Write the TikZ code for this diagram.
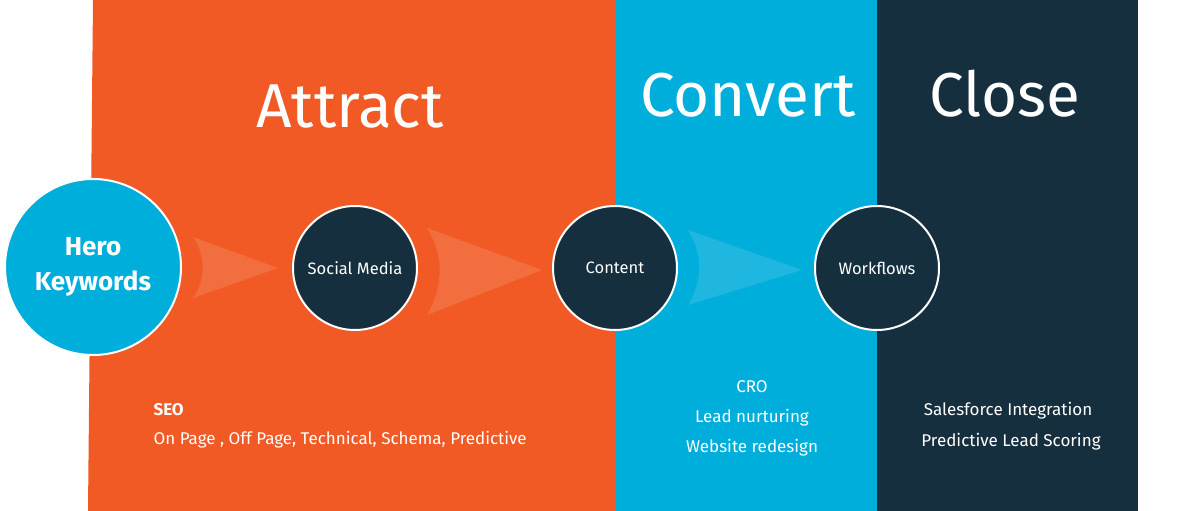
\documentclass[tikz,border=0pt]{standalone}
\usepackage{fontspec}
\setmainfont{Fira Sans}
\begin{document}
\begin{tikzpicture}[x=1pt,y=-1pt,
  hub/.style={circle,draw=white,line width=2pt,minimum size=124pt,inner sep=0pt,fill=darkc,text=white,font=\fontsize{16.5}{18}\selectfont},
  chev/.style={fill=white,fill opacity=0.12,draw=none},
  title/.style={text=white,font=\fontsize{62}{70}\selectfont,anchor=base},
  lbl/.style={text=white,font=\fontsize{17}{18}\selectfont,anchor=base}]
\definecolor{orangec}{HTML}{F15A24}
\definecolor{bluec}{HTML}{00AEDB}
\definecolor{darkc}{HTML}{152F3F}
\useasboundingbox (0,0) rectangle (1200,511);
\fill[white] (0,0) rectangle (1200,511);
\fill[orangec] (93,0) -- (615,0) -- (615,511) -- (88,511) -- cycle;
\fill[bluec] (615,0) rectangle (877,511);
\fill[darkc] (877,0) rectangle (1138,511);
% chevrons
\fill[chev] (193,237) .. controls (206,255) and (206,280) .. (193,298) -- (278,268) -- cycle;
\fill[chev] (427,228) .. controls (444,255) and (444,285) .. (427,315) -- (542,270) -- cycle;
\fill[chev] (688,230) .. controls (703,255) and (703,280) .. (688,305) -- (802,270) -- cycle;
% titles
\node[title] (t1) at (350,127) {Attract};
\node[title] (t2) at (748,117) {Convert};
\node[title] (t3) at (1005,117) {Close};
% circles
\node[circle,draw=white,line width=2pt,minimum size=176pt,fill=bluec,text=white,align=center,font=\bfseries\fontsize{26}{35}\selectfont] (hero) at (93,267) {Hero\\Keywords};
\node[hub] (sm) at (355,268) {Social Media};
\node[hub] (ct) at (615,268) {Content};
\node[hub] (wf) at (877,268) {Workflows};
% bottom texts
\node[lbl,anchor=base west,font=\bfseries\fontsize{17}{18}\selectfont] (seo) at (150,415) {SEO};
\node[lbl,anchor=base west] (seo2) at (150,444) {On Page , Off Page, Technical, Schema, Predictive};
\node[lbl] (cro) at (752,392) {CRO};
\node[lbl] (ln) at (752,422) {Lead nurturing};
\node[lbl] (wr) at (752,452) {Website redesign};
\node[lbl] (sf) at (1008,415) {Salesforce Integration};
\node[lbl] (pl) at (1011,446) {Predictive Lead Scoring};
\end{tikzpicture}
\end{document}
